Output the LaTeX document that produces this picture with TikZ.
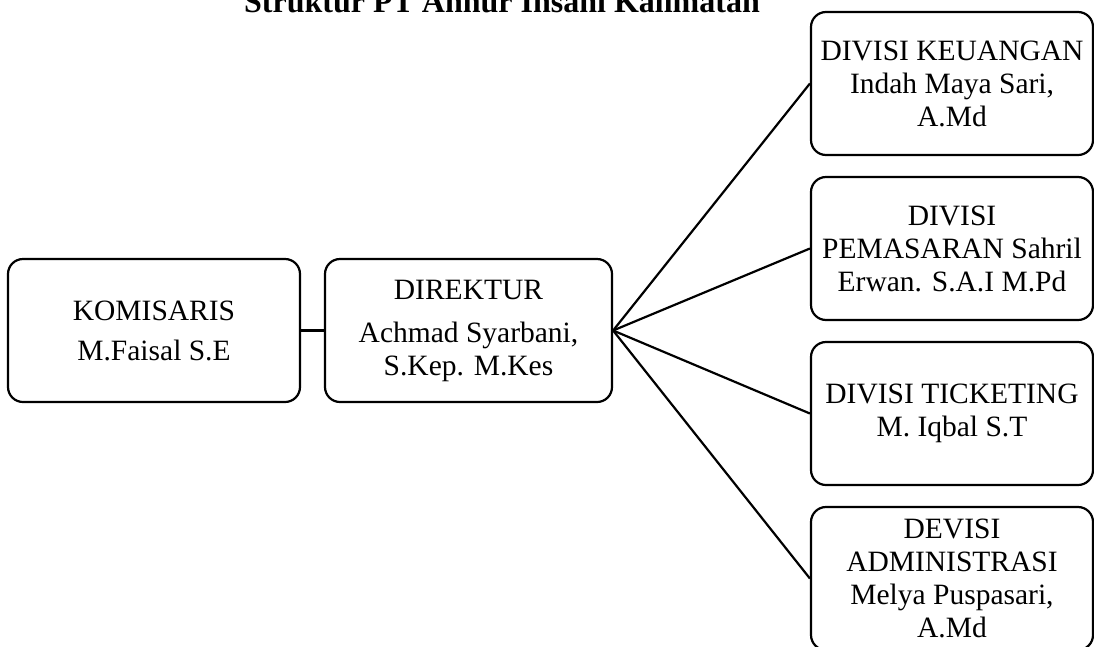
\documentclass[tikz,border=0pt]{standalone}
\usepackage{fontspec}
\setmainfont{Liberation Serif}
\begin{document}
\begin{tikzpicture}[x=1pt,y=-1pt,
  box/.style={draw, line width=2.2pt, rounded corners=15pt, align=center,
    inner sep=3pt, minimum height=143pt,
    font=\fontsize{29.5}{33}\selectfont},
  leftbox/.style={box, minimum width=290pt},
  rightbox/.style={box, minimum width=282pt},
  link/.style={line width=2.2pt}]
\clip (0,0) rectangle (1094,646);

% heading
\node[font=\fontsize{32}{36}\selectfont\bfseries, anchor=base, inner sep=0pt]
  (title) at (502,12.5) {Struktur PT Annur Insani Kalimatan};

% board and director
\node[leftbox, minimum width=292pt] (kom) at (154,330.5) {KOMISARIS\\[7pt]M.Faisal S.E};
\node[leftbox, minimum width=287pt] (dir) at (468.5,330.5) {DIREKTUR\\[10pt]Achmad Syarbani,\\S.Kep. M.Kes};

% divisions
\node[rightbox] (keu) at (952,83.5) {DIVISI KEUANGAN\\Indah Maya Sari,\\A.Md};
\node[rightbox] (pem) at (952,248.5) {DIVISI\\PEMASARAN Sahril\\Erwan. S.A.I M.Pd};
\node[rightbox] (tik) at (952,413.5) {DIVISI TICKETING\\M. Iqbal S.T};
\node[rightbox] (adm) at (952,578.5) {DEVISI\\ADMINISTRASI\\Melya Puspasari,\\A.Md};

% connectors
\draw[link] (kom.east) -- (dir.west);
\draw[link] (dir.east) -- (keu.west);
\draw[link] (dir.east) -- (pem.west);
\draw[link] (dir.east) -- (tik.west);
\draw[link] (dir.east) -- (adm.west);
\end{tikzpicture}
\end{document}
